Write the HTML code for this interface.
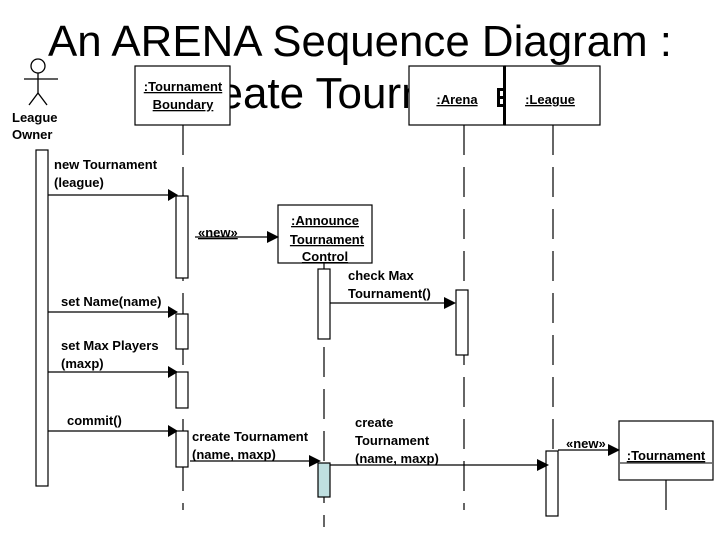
<!DOCTYPE html>
<html><head><meta charset="utf-8"><style>
html,body{margin:0;padding:0;background:#fff;}
svg{display:block;}
.t{font-family:"Liberation Sans",Arial,sans-serif;}
.b{font-family:"Liberation Sans",Arial,sans-serif;font-weight:bold;font-size:13px;}
</style></head><body>
<svg width="720" height="540" viewBox="0 0 720 540" xmlns="http://www.w3.org/2000/svg">
<rect width="720" height="540" fill="#fff"/>
<text class="t" x="360" y="56" font-size="44" text-anchor="middle" textLength="624" lengthAdjust="spacingAndGlyphs">An ARENA Sequence Diagram :</text>
<text class="t" x="360" y="108" font-size="44" text-anchor="middle">Create Tournament</text>

<g stroke="#000" stroke-width="1.3" fill="none">
<circle cx="38" cy="66" r="7" fill="#fff"/>
<line x1="38" y1="73" x2="38" y2="93"/>
<line x1="24" y1="79" x2="58" y2="79"/>
<line x1="38" y1="93" x2="29" y2="105"/>
<line x1="38" y1="93" x2="47" y2="105"/>
</g>
<text class="b" x="12" y="122">League</text>
<text class="b" x="12" y="139">Owner</text>

<g stroke="#000" stroke-width="1.2" fill="#fff">
<rect x="135" y="66" width="95" height="59"/>
<rect x="409" y="66" width="96" height="59"/>
<rect x="505" y="66" width="95" height="59"/>
<rect x="278" y="205" width="94" height="58"/>
<rect x="619" y="421" width="94" height="59"/>
</g>
<rect x="503" y="66" width="3" height="59" fill="#000"/>
<g fill="#000"><rect x="497" y="88" width="6" height="3"/><rect x="497" y="96" width="6" height="3"/><rect x="497" y="104" width="6" height="3"/><rect x="497" y="88" width="3" height="19"/></g>

<g class="b" font-size="12" text-decoration="underline" text-anchor="middle">
<text x="183" y="91">:Tournament</text>
<text x="183" y="109">Boundary</text>
<text x="457" y="104">:Arena</text>
<text x="550" y="104">:League</text>
<text x="325" y="225" font-size="13">:Announce</text>
<text x="327" y="244" font-size="13">Tournament</text>
<text x="325" y="261" font-size="13">Control</text>
<text x="666" y="460" font-size="13">:Tournament</text>
</g>
<line x1="620" y1="463" x2="712" y2="463" stroke="#000"/>

<g stroke="#000" stroke-width="1.2">
<line x1="183" y1="125" x2="183" y2="510" stroke-dasharray="30 12"/>
<line x1="324" y1="263" x2="324" y2="527" stroke-dasharray="30 12"/>
<line x1="464" y1="125" x2="464" y2="510" stroke-dasharray="30 12"/>
<line x1="553" y1="125" x2="553" y2="510" stroke-dasharray="30 12"/>
<line x1="666" y1="480" x2="666" y2="510"/>
</g>

<g stroke="#000" stroke-width="1.2" fill="#fff">
<rect x="36" y="150" width="12" height="336"/>
<rect x="176" y="196" width="12" height="82"/>
<rect x="176" y="314" width="12" height="35"/>
<rect x="176" y="372" width="12" height="36"/>
<rect x="176" y="431" width="12" height="36"/>
<rect x="318" y="269" width="12" height="70"/>
<rect x="318" y="463" width="12" height="34" fill="#bfdfe0"/>
<rect x="456" y="290" width="12" height="65"/>
<rect x="546" y="451" width="12" height="65"/>
</g>

<g stroke="#000" stroke-width="1.2">
<line x1="48" y1="195" x2="170" y2="195"/>
<line x1="48" y1="312" x2="170" y2="312"/>
<line x1="48" y1="372" x2="170" y2="372"/>
<line x1="48" y1="431" x2="170" y2="431"/>
<line x1="195" y1="237" x2="272" y2="237"/>
<line x1="330" y1="303" x2="450" y2="303"/>
<line x1="190" y1="461" x2="312" y2="461"/>
<line x1="330" y1="465" x2="540" y2="465"/>
<line x1="558" y1="450" x2="613" y2="450"/>
</g>
<g fill="#000">
<polygon points="168,189 178,195 168,201"/>
<polygon points="168,306 178,312 168,318"/>
<polygon points="168,366 178,372 168,378"/>
<polygon points="168,425 178,431 168,437"/>
<polygon points="267,231 279,237 267,243"/>
<polygon points="444,297 456,303 444,309"/>
<polygon points="309,455 321,461 309,467"/>
<polygon points="537,459 549,465 537,471"/>
<polygon points="608,444 620,450 608,456"/>
</g>

<g class="b">
<text x="54" y="169">new Tournament</text>
<text x="54" y="187">(league)</text>
<text x="198" y="237" text-decoration="underline">«new»</text>
<text x="348" y="280">check Max</text>
<text x="348" y="298">Tournament()</text>
<text x="61" y="306">set Name(name)</text>
<text x="61" y="350">set Max Players</text>
<text x="61" y="368">(maxp)</text>
<text x="67" y="425">commit()</text>
<text x="192" y="441">create Tournament</text>
<text x="192" y="459">(name, maxp)</text>
<text x="355" y="427">create</text>
<text x="355" y="445">Tournament</text>
<text x="355" y="463">(name, maxp)</text>
<text x="566" y="448">«new»</text>
</g>
</svg>
</body></html>
